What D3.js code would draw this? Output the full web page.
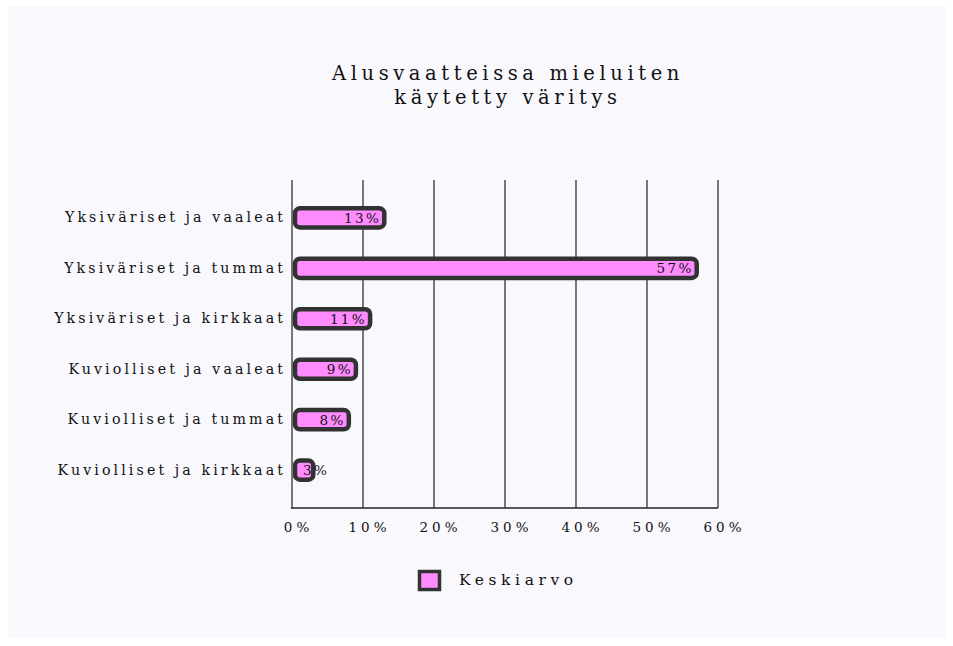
<!DOCTYPE html>
<html>
<head>
<meta charset="utf-8">
<script src="https://cdn.jsdelivr.net/npm/d3@7"></script>
<style>
  body { margin: 0; background: #ffffff; }
  svg text { font-family: "DejaVu Serif", serif; fill: #111; }
</style>
</head>
<body>
<svg id="chart" width="953" height="646"></svg>
<script>
// chart data
const categories = [
  "Yksiväriset ja vaaleat",
  "Yksiväriset ja tummat",
  "Yksiväriset ja kirkkaat",
  "Kuviolliset ja vaaleat",
  "Kuviolliset ja tummat",
  "Kuviolliset ja kirkkaat"
];
const values = [13, 57, 11, 9, 8, 3];
const tickValues = [0, 10, 20, 30, 40, 50, 60];
const seriesName = "Keskiarvo";
const titleLines = ["Alusvaatteissa mieluiten", "käytetty väritys"];

const svg = d3.select("#chart");

// light panel behind everything
svg.append("rect")
  .attr("x", 8).attr("y", 6)
  .attr("width", 937).attr("height", 632)
  .attr("fill", "#f8f8fd");

// sketchy outline filter
const defs = svg.append("defs");
const filt = defs.append("filter").attr("id", "rough")
  .attr("x", "-10%").attr("y", "-30%").attr("width", "120%").attr("height", "160%");
filt.append("feTurbulence").attr("type", "fractalNoise")
  .attr("baseFrequency", 0.5).attr("numOctaves", 1).attr("result", "noise");
filt.append("feDisplacementMap").attr("in", "SourceGraphic").attr("in2", "noise")
  .attr("scale", 1.2);

const plot = { left: 292, right: 718, top: 180, bottom: 508 };

const x = d3.scaleLinear()
  .domain([0, 60])
  .range([plot.left, plot.right]);

const y = d3.scaleBand()
  .domain(categories)
  .range([plot.top, plot.bottom])
  .paddingInner(0.62)
  .paddingOuter(0.56);

// title
svg.append("text")
  .attr("text-anchor", "middle")
  .style("font-size", "19.5px")
  .style("letter-spacing", "4.6px")
  .selectAll("tspan")
  .data(titleLines)
  .enter()
  .append("tspan")
  .attr("x", (plot.left + plot.right) / 2 + 3)
  .attr("y", (d, i) => 80 + i * 24)
  .text(d => d);

// vertical grid lines
svg.append("g")
  .selectAll("line")
  .data(tickValues)
  .enter()
  .append("line")
  .attr("x1", d => x(d)).attr("x2", d => x(d))
  .attr("y1", plot.top).attr("y2", plot.bottom)
  .attr("stroke", "#222")
  .attr("stroke-width", 1.2);

// bottom axis line
svg.append("line")
  .attr("x1", plot.left - 1).attr("x2", plot.right)
  .attr("y1", plot.bottom).attr("y2", plot.bottom)
  .attr("stroke", "#222")
  .attr("stroke-width", 1.5);

// x tick labels
const xAxis = svg.append("g")
  .attr("transform", `translate(0,${plot.bottom})`)
  .call(d3.axisBottom(x).tickValues(tickValues).tickSize(0).tickPadding(14)
    .tickFormat(d => d + "%"));
xAxis.select(".domain").remove();
xAxis.selectAll("text")
  .attr("dx", 6)
  .style("font-size", "13.5px")
  .style("letter-spacing", "4px")
  .style("font-family", "'DejaVu Serif', serif")
  .attr("fill", "#111");

// y category labels
const yAxis = svg.append("g")
  .attr("transform", `translate(${plot.left},0)`)
  .call(d3.axisLeft(y).tickSize(0).tickPadding(6));
yAxis.select(".domain").remove();
yAxis.selectAll("text")
  .style("font-size", "14.2px")
  .style("letter-spacing", "3.1px")
  .style("font-family", "'DejaVu Serif', serif")
  .attr("fill", "#111");

// bars
svg.append("g")
  .selectAll("rect")
  .data(values)
  .enter()
  .append("rect")
  .attr("x", x(0) + 3)
  .attr("y", (d, i) => y(categories[i]))
  .attr("width", d => x(d) - x(0) - 3)
  .attr("height", y.bandwidth())
  .attr("rx", 5)
  .attr("fill", "#ff8cff")
  .attr("stroke", "#333")
  .attr("stroke-width", 4.5)
  .attr("filter", "url(#rough)");

// value labels
const labels = svg.append("g")
  .selectAll("text")
  .data(values)
  .enter()
  .append("text")
  .attr("y", (d, i) => y(categories[i]) + y.bandwidth() / 2 + 5)
  .style("font-size", "13.5px")
  .style("letter-spacing", "2.4px")
  .text(d => d + "%");

labels.each(function(d) {
  const t = d3.select(this);
  const w = this.getComputedTextLength();
  const end = x(d) - 3;
  if (end - w < x(0) + 10) {
    t.attr("x", x(0) + 11).attr("text-anchor", "start");
  } else {
    t.attr("x", end).attr("text-anchor", "end");
  }
});

// legend
const legend = svg.append("g").attr("transform", "translate(418,570)");
legend.append("rect")
  .attr("x", 1.5).attr("y", 1.5)
  .attr("width", 20).attr("height", 18)
  .attr("fill", "#ff8cff")
  .attr("stroke", "#333")
  .attr("stroke-width", 3.5)
  .attr("filter", "url(#rough)");
legend.append("text")
  .attr("x", 41).attr("y", 15)
  .style("font-size", "15.5px")
  .style("letter-spacing", "4.6px")
  .text(seriesName);
</script>
</body>
</html>
